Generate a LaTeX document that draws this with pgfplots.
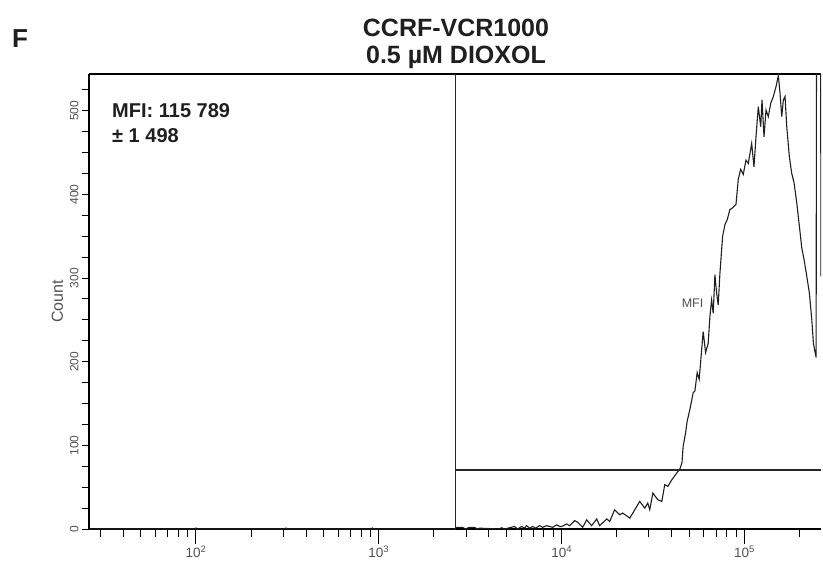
\documentclass[border=0pt]{standalone}
\usepackage{fontspec}
\setmainfont{Liberation Sans}
\usepackage{pgfplots}
\pgfplotsset{compat=1.18}
\usepackage{pgfplotstable}
\definecolor{lblgray}{HTML}{505050}
\definecolor{histc}{HTML}{1E1E1E}

\pgfplotstableread{
x count
26 0
98 0
100 1.2
102 0
305 0
311 1.2
317 0
905 0
921 1.2
937 0
2624 0
2649 2
2868 2
2979 0
3133 2
3334 2
3467 0
3556 1
4571 0
4688 1.5
4875 0
5521 3
5741 0
6039 3
6270 1
6427 4
6683 1
6935 3
7211 1
7568 4
7870 2
8279 4
8590 3
8933 2
9397 5
9750 3
10000 3
10641 6
11066 4
11776 10
12246 8
13032 2
13709 11
14588 4
15560 12
16144 4
17660 12
18323 9
19498 23
20797 17
21577 19
23605 13
25119 23
26730 33
28510 25
29580 31
30339 23
31550 43
33570 35
35320 33
36640 53
38100 51
40090 59
42660 67
44360 72
45500 79
46200 99
47640 115
48600 129
50280 143
52420 163
53550 165
55130 187
56530 179
57750 203
59450 236
61290 211
63330 222
64710 254
66110 274
67450 258
68920 304
70420 282
71850 268
73420 306
75950 350
78210 364
80520 370
83270 382
86150 384
89840 388
92480 418
95330 430
98490 424
101900 441
104900 437
109500 461
112700 433
115600 469
119000 505
122700 481
124700 513
127900 469
131200 501
135000 493
139200 509
143800 517
148800 529
153200 542
156500 521
159900 493
163200 513
166700 517
170300 481
176000 445
181400 425
186700 414
193200 390
199700 362
205800 336
211800 322
219200 302
226500 282
233500 250
238300 222
243400 211
246500 205
248100 700
260900 700
261800 302
}\histdata

\begin{document}
\begin{tikzpicture}
\useasboundingbox (0,0) rectangle (823pt,563pt);
\begin{axis}[
  at={(89pt,34pt)}, anchor=south west,
  scale only axis, width=732pt, height=455pt,
  xmode=log, xmin=26, xmax=262144, ymin=0, ymax=544,
  axis x line=box, axis y line=left,
  x axis line style={-, line width=1.3pt},
  y axis line style={-, line width=1.3pt},
  xtick={100,1000,10000,100000},
  xticklabels={10\textsuperscript{2},10\textsuperscript{3},10\textsuperscript{4},10\textsuperscript{5}},
  minor xtick={30,40,50,60,70,80,90,200,300,400,500,600,700,800,900,2000,3000,4000,5000,6000,7000,8000,9000,20000,30000,40000,50000,60000,70000,80000,90000,200000},
  extra x ticks={100,1000,10000,100000},
  extra x tick labels={},
  extra x tick style={major tick length=15pt},
  xtick pos=left, ytick pos=left,
  tick align=outside,
  major tick length=7pt, minor tick length=7.5pt,
  tick style={line width=1pt, black},
  /pgf/number format/assume math mode=true,
  ytick={0,100,200,300,400,500},
  minor ytick={25,50,75,125,150,175,225,250,275,325,350,375,425,450,475,525},
  yticklabel style={rotate=90, anchor=south, font=\fontsize{12}{12}\selectfont, text=lblgray},
  xticklabel style={font=\fontsize{13.5}{13.5}\selectfont, text=lblgray, yshift=-6pt},
  ylabel={Count},
  ylabel style={font=\fontsize{16}{16}\selectfont, text=lblgray},
  clip=true,
]
\addplot[histc, line width=1.1pt, sharp plot] table[x=x, y=count] {\histdata};
\addplot[black!85, line width=0.9pt] coordinates {(2624,0) (2624,544)};
\addplot[black!85, line width=2.2pt] coordinates {(2624,71) (262144,71)};
\node[text=lblgray, font=\fontsize{12.5}{12.5}\selectfont] at (axis cs:52000,270) {MFI};
\end{axis}
\node[anchor=base, font=\bfseries\fontsize{25}{25}\selectfont, text=black!88] at (456pt,526pt) {CCRF-VCR1000};
\node[anchor=base, font=\bfseries\fontsize{25}{25}\selectfont, text=black!88] at (456pt,499pt) {0.5 µM DIOXOL};
\node[anchor=base west, inner sep=0pt, font=\bfseries\fontsize{26}{26}\selectfont, text=black!88] at (12pt,515pt) {F};
\node[anchor=base west, inner sep=0pt, font=\bfseries\fontsize{20}{20}\selectfont, text=black!88] at (112pt,445pt) {MFI: 115 789};
\node[anchor=base west, inner sep=0pt, font=\bfseries\fontsize{20}{20}\selectfont, text=black!88] at (112pt,420pt) {± 1 498};
\end{tikzpicture}
\end{document}
